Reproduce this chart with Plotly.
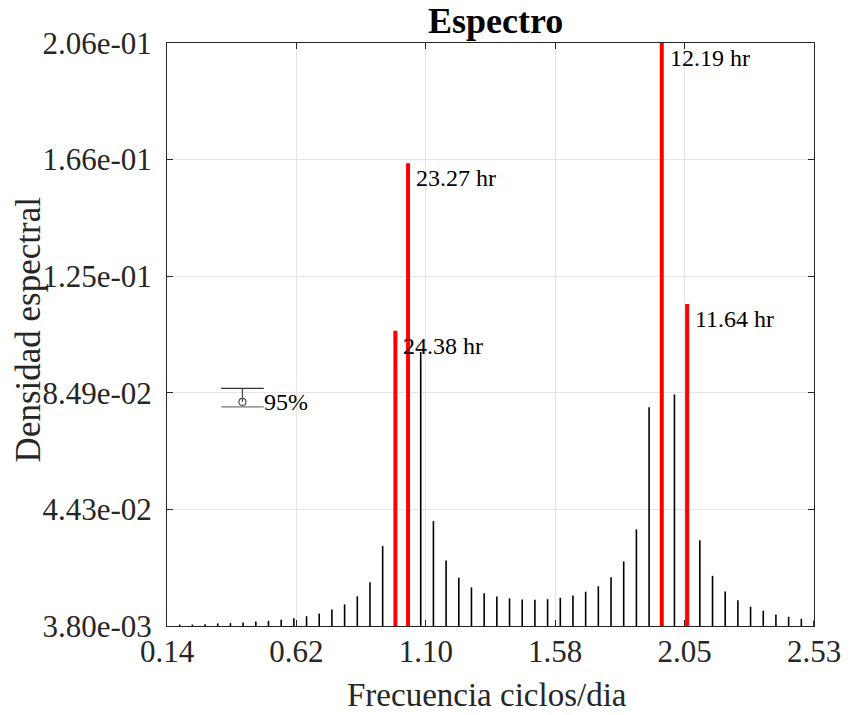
import plotly.graph_objects as go

# ---------------- data ----------------
freq = [0.1875, 0.2344, 0.2813, 0.3281, 0.375, 0.4219, 0.4688, 0.5156, 0.5625, 0.6094,
        0.6563, 0.7031, 0.75, 0.7969, 0.8438, 0.8906, 0.9375, 0.9844, 1.0313, 1.0781,
        1.125, 1.1719, 1.2188, 1.2656, 1.3125, 1.3594, 1.4063, 1.4531, 1.5, 1.5469,
        1.5938, 1.6406, 1.6875, 1.7344, 1.7813, 1.8281, 1.875, 1.9219, 1.9688, 2.0156,
        2.0625, 2.1094, 2.1563, 2.2031, 2.25, 2.2969, 2.3438, 2.3906, 2.4375, 2.4844,
        2.5313]
density = [0.0043, 0.0043, 0.0044, 0.0047, 0.0048, 0.0050, 0.0054, 0.0056, 0.0060, 0.0065,
           0.0072, 0.0081, 0.0095, 0.0113, 0.0141, 0.0190, 0.0315, 0.1062, 0.1643, 0.0988,
           0.0402, 0.0265, 0.0205, 0.0172, 0.0152, 0.0140, 0.0134, 0.0130, 0.0129, 0.0131,
           0.0136, 0.0144, 0.0157, 0.0176, 0.0207, 0.0262, 0.0373, 0.0797, 0.2060, 0.0841,
           0.1155, 0.0335, 0.0212, 0.0158, 0.0127, 0.0105, 0.0091, 0.0078, 0.0070, 0.0063,
           0.0057]

peak_freq = [0.9844, 1.0313, 1.9688, 2.0625]
peak_density = [0.1062, 0.1643, 0.2060, 0.1155]
peak_labels = ["24.38 hr", "23.27 hr", "12.19 hr", "11.64 hr"]

x_ticks = [0.140625, 0.61875, 1.096875, 1.575, 2.053125, 2.53125]
x_ticktext = ["0.14", "0.62", "1.10", "1.58", "2.05", "2.53"]
y_ticks = [0.0038, 0.04424, 0.08468, 0.12512, 0.16556, 0.2060]
y_ticktext = ["3.80e-03", "4.43e-02", "8.49e-02", "1.25e-01", "1.66e-01", "2.06e-01"]

ci_x = [0.3408, 0.4983]
ci_center_x = 0.4194
ci_upper = 0.0862
ci_lower = 0.0798
ci_center = 0.0815
ci_label = "95%"

title_text = "Espectro"
x_title = "Frecuencia ciclos/dia"
y_title = "Densidad espectral"

FONT = "Liberation Serif, Times New Roman, serif"

# ---------------- figure ----------------
fig = go.Figure()

# black stems (non-highlighted)
bx, by = [], []
for f, v in zip(freq, density):
    if any(abs(f - p) < 1e-6 for p in peak_freq):
        continue
    bx += [f, f, None]
    by += [0, v, None]
fig.add_trace(go.Scatter(x=bx, y=by, mode="lines",
                         line=dict(color="black", width=1.6),
                         hoverinfo="skip", showlegend=False))

# red stems
rx, ry = [], []
for f, v in zip(peak_freq, peak_density):
    rx += [f, f, None]
    ry += [0, v, None]
fig.add_trace(go.Scatter(x=rx, y=ry, mode="lines",
                         line=dict(color="#ff0000", width=4),
                         hoverinfo="skip", showlegend=False))

# confidence interval marker
fig.add_trace(go.Scatter(x=ci_x, y=[ci_upper, ci_upper], mode="lines",
                         line=dict(color="#333333", width=1.2), showlegend=False, hoverinfo="skip"))
fig.add_trace(go.Scatter(x=ci_x, y=[ci_lower, ci_lower], mode="lines",
                         line=dict(color="#777777", width=1.2), showlegend=False, hoverinfo="skip"))
fig.add_trace(go.Scatter(x=[ci_center_x, ci_center_x], y=[ci_upper, ci_center], mode="lines",
                         line=dict(color="#444444", width=1.2), showlegend=False, hoverinfo="skip"))
fig.add_trace(go.Scatter(x=[ci_center_x], y=[ci_center], mode="markers",
                         marker=dict(symbol="circle-open", size=7, color="#555555",
                                     line=dict(width=1.2)),
                         showlegend=False, hoverinfo="skip"))

annotations = []
for f, v, t in zip(peak_freq, peak_density, peak_labels):
    annotations.append(dict(x=f, y=v, xref="x", yref="y", text=t, showarrow=False,
                            xanchor="left", yanchor="top", xshift=6, yshift=0,
                            font=dict(family=FONT, size=24, color="black")))
annotations.append(dict(x=ci_x[1], y=ci_center, xref="x", yref="y", text=ci_label,
                        showarrow=False, xanchor="left", yanchor="middle", xshift=-2,
                        font=dict(family=FONT, size=24, color="black")))
# axis titles
annotations.append(dict(x=0.494, y=-0.118, xref="paper", yref="paper", text=x_title,
                        showarrow=False, xanchor="center", yanchor="middle",
                        font=dict(family=FONT, size=33, color="#262626")))
annotations.append(dict(x=-0.214, y=0.508, xref="paper", yref="paper", text=y_title,
                        showarrow=False, xanchor="center", yanchor="middle", textangle=-90,
                        font=dict(family=FONT, size=35, color="#262626")))

axis_common = dict(showline=True, linecolor="#262626", linewidth=1, mirror="ticks",
                   ticks="inside", ticklen=6, tickwidth=1, tickcolor="#262626",
                   showgrid=True, gridcolor="#e5e5e5", gridwidth=1, zeroline=False)

fig.update_layout(
    width=853, height=715, autosize=False,
    margin=dict(l=167, r=29, t=43, b=89, pad=0),
    paper_bgcolor="white", plot_bgcolor="white",
    title=dict(text="<b>" + title_text + "</b>", x=0.581, xanchor="center",
               y=0.972, yanchor="middle", yref="container",
               font=dict(family=FONT, size=36, color="black")),
    xaxis=dict(range=[0.140625, 2.53125], tickvals=x_ticks, ticktext=x_ticktext,
               ticklabelstandoff=-2,
               tickfont=dict(family=FONT, size=31, color="#262626"), **axis_common),
    yaxis=dict(range=[0.0038, 0.2060], tickvals=y_ticks, ticktext=y_ticktext,
               ticklabelstandoff=8,
               tickfont=dict(family=FONT, size=31, color="#262626"), **axis_common),
    annotations=annotations,
)

fig.write_html("out.html",
               config={"displayModeBar": False},
               post_script="document.body.style.margin='0px';"
                           "document.body.style.overflow='hidden';")
